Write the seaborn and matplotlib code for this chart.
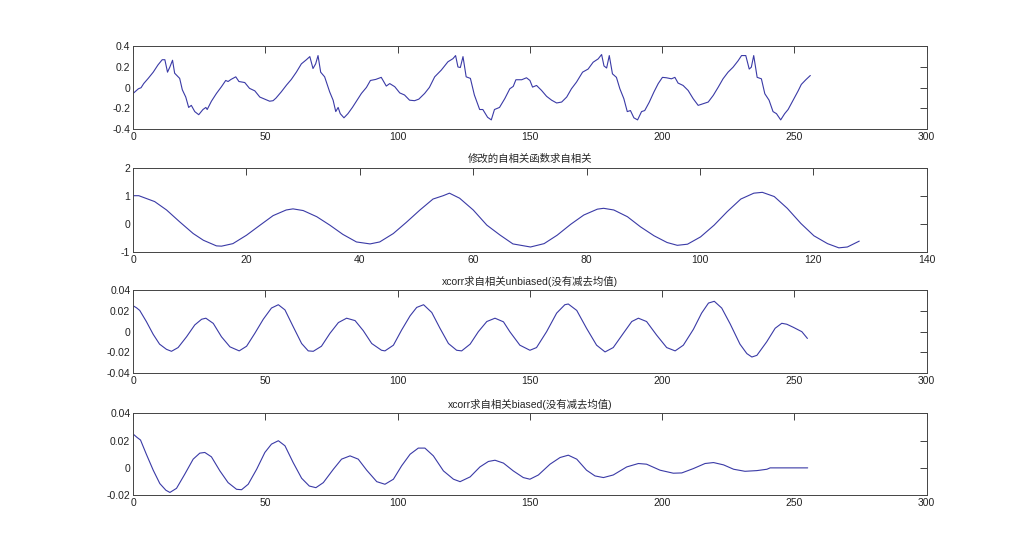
import matplotlib
matplotlib.use("Agg")
import matplotlib.pyplot as plt
import seaborn as sns

# 原始信号
sig_x = [0, 2, 3, 4, 5.7, 7.6, 9.4, 11, 12, 13, 13.9, 14.9, 15.7, 17.6, 18.6, 19.9, 21, 22, 23.3, 24.8,
         26.4, 27.5, 28, 29.6, 31.5, 33.4, 35, 35.9, 37, 38.8, 40, 42.2, 44, 46, 47.9, 49.7, 51.6, 52.9,
         54, 56, 58, 59.8, 61.7, 63.6, 65.5, 66.8, 68, 69, 69.9, 70.9, 72.4, 74.3, 75.6, 76.6, 77.5, 78.3,
         79.7, 81.2, 82.9, 84.4, 86.3, 88.2, 89.7, 91.7, 93.8, 95.7, 97, 98.9, 100.8, 102.6, 104.5, 106.4,
         108, 110.2, 112, 114, 116.5, 119, 120.9, 121.9, 122.8, 123.7, 124.7, 125.9, 127.5, 129, 131,
         132.2, 134, 135.4, 136.6, 138.5, 140.5, 142.4, 143.7, 144.7, 146.9, 148.7, 150, 151, 152.5, 154.4,
         156.3, 158.2, 160.1, 162, 163.9, 165.7, 167.6, 169.9, 172, 173.9, 175.8, 177.1, 178, 179, 180,
         181.2, 182.7, 184, 185.5, 186.8, 188, 189.3, 190.7, 192.2, 193.4, 195.1, 196.9, 198.5, 200.1,
         201.6, 203.5, 204.8, 206, 207.9, 209.8, 211.7, 213.6, 215.5, 217.4, 219.3, 221.2, 223, 224.9,
         226.8, 228.7, 230, 231.6, 232.9, 233.7, 234.6, 235.9, 237.5, 238.8, 240.4, 241.9, 243.2, 244.8,
         246.3, 247.6, 249.5, 251.4, 252.6, 254.3, 256]
sig_y = [-0.055, -0.01, 0.0, 0.04, 0.09, 0.15, 0.22, 0.27, 0.27, 0.15, 0.2, 0.265, 0.14, 0.09, -0.02,
         -0.09, -0.19, -0.17, -0.23, -0.26, -0.21, -0.19, -0.21, -0.13, -0.055, 0.01, 0.07, 0.06, 0.08,
         0.105, 0.06, 0.05, -0.006, -0.03, -0.09, -0.11, -0.13, -0.125, -0.1, -0.04, 0.026, 0.08, 0.15,
         0.23, 0.27, 0.3, 0.185, 0.23, 0.31, 0.15, 0.105, -0.04, -0.12, -0.23, -0.19, -0.25, -0.29, -0.25,
         -0.19, -0.13, -0.055, 0.003, 0.07, 0.08, 0.1, 0.016, 0.04, 0.01, -0.05, -0.07, -0.12, -0.125,
         -0.11, -0.055, 0.003, 0.105, 0.17, 0.25, 0.28, 0.31, 0.2, 0.195, 0.3, 0.105, 0.09, -0.07, -0.21,
         -0.21, -0.285, -0.31, -0.21, -0.19, -0.105, -0.01, 0.013, 0.077, 0.077, 0.096, 0.07, 0.006, 0.022,
         -0.026, -0.083, -0.12, -0.147, -0.138, -0.09, -0.01, 0.054, 0.15, 0.18, 0.246, 0.278, 0.32, 0.21,
         0.19, 0.31, 0.134, 0.1, -0.01, -0.105, -0.23, -0.22, -0.29, -0.31, -0.23, -0.22, -0.14, -0.04,
         0.04, 0.1, 0.096, 0.086, 0.1, 0.045, 0.022, -0.026, -0.105, -0.17, -0.154, -0.138, -0.074, 0.006,
         0.086, 0.15, 0.198, 0.26, 0.31, 0.31, 0.18, 0.198, 0.31, 0.1, 0.086, -0.058, -0.12, -0.23, -0.25,
         -0.31, -0.25, -0.21, -0.12, -0.03, 0.032, 0.077, 0.118]

# 修改的自相关函数求自相关
mod_x = [0, 1, 3.8, 5.9, 8.2, 10.6, 12.4, 14.7, 15.6, 17.6, 20, 22.4, 24.7, 27, 28.2, 30, 32.4, 34.7, 37,
         39.4, 41.8, 43.5, 45.9, 48.2, 50.6, 52.9, 54.7, 55.8, 57.6, 60, 62.4, 64.7, 67, 70.1, 72.5, 74.8,
         77.2, 79.5, 81.9, 83, 84.8, 87.2, 89.5, 91.9, 94.2, 96, 97.8, 100.1, 102.5, 104.8, 107.2, 109.5,
         111, 113.1, 115.4, 117.8, 120.1, 122.5, 124.5, 126, 128.1]
mod_y = [1.0, 1.0, 0.79, 0.49, 0.07, -0.35, -0.59, -0.79, -0.8, -0.71, -0.41, -0.05, 0.29, 0.49, 0.53, 0.47,
         0.25, -0.05, -0.38, -0.65, -0.72, -0.65, -0.35, 0.05, 0.49, 0.88, 1.0, 1.09, 0.91, 0.49, -0.05,
         -0.4, -0.72, -0.83, -0.71, -0.41, -0.02, 0.31, 0.52, 0.55, 0.49, 0.25, -0.11, -0.43, -0.67, -0.77,
         -0.73, -0.47, -0.05, 0.43, 0.88, 1.09, 1.12, 0.97, 0.55, 0.01, -0.43, -0.71, -0.86, -0.83, -0.62]

# xcorr unbiased
unb_x = [0, 1.3, 2.5, 5, 7.6, 10, 12.6, 14.5, 17, 20.2, 23.3, 25.9, 27.5, 30.3, 33.4, 36.6, 40.1, 42.9, 46,
         49.2, 52.3, 54.9, 57.4, 60.5, 63.7, 66.2, 68.1, 71.2, 74.4, 77.6, 80.7, 83.9, 87, 90.2, 93.9, 95.2,
         98.4, 101.5, 104.7, 107.2, 109.8, 112.9, 116, 119.2, 122.3, 124.2, 127.4, 130.5, 133.7, 136.8, 140,
         142.4, 146.2, 150, 152.5, 156.3, 160.1, 163.2, 164.5, 167.7, 171.4, 175.2, 178.4, 181.5, 185.3,
         188.5, 191, 194.1, 197.9, 201.7, 204.9, 208, 211.8, 214.9, 217.5, 219.7, 222.5, 225.7, 229.4, 232,
         233.9, 235.8, 239.5, 242.7, 245.2, 247.1, 249.6, 252.8, 254.9]
unb_y = [0.025, 0.023, 0.0205, 0.0098, -0.0026, -0.012, -0.017, -0.0189, -0.0153, -0.0049, 0.0065, 0.012,
         0.013, 0.008, -0.0049, -0.0146, -0.0185, -0.014, -0.0016, 0.012, 0.0228, 0.026, 0.021, 0.0049,
         -0.0114, -0.0185, -0.0189, -0.014, -0.0016, 0.0088, 0.013, 0.0107, 0.001, -0.0114, -0.0179, -0.0185,
         -0.013, 0.0016, 0.0153, 0.0234, 0.026, 0.0185, 0.0033, -0.0114, -0.0179, -0.0185, -0.012, 0.0,
         0.0098, 0.013, 0.0095, 0.0, -0.013, -0.0179, -0.0153, 0.0, 0.0179, 0.026, 0.0267, 0.0205, 0.0033,
         -0.013, -0.0195, -0.0153, -0.0016, 0.0098, 0.013, 0.0098, -0.0033, -0.0153, -0.0185, -0.013, 0.0023,
         0.0179, 0.0276, 0.0293, 0.0228, 0.0075, -0.012, -0.0211, -0.0244, -0.0228, -0.0098, 0.0033, 0.0081,
         0.0072, 0.0042, 0.0, -0.0065]

# xcorr biased
bia_x = [0, 1.5, 2.8, 5, 7.6, 10.1, 12.4, 13.9, 16.4, 19.5, 22.7, 25.2, 27.1, 29.6, 32.8, 35.9, 39.1, 41,
         43.5, 46.7, 49.8, 52.3, 54.9, 57.4, 60.5, 63.7, 66.6, 69.1, 71.9, 75.7, 78.8, 82, 85.1, 88.3, 92.1,
         95.2, 98.4, 101.5, 104.7, 107.8, 110.3, 113.5, 117.3, 121.1, 123.6, 127.4, 131.1, 134.3, 136.8, 140,
         143.7, 147.5, 150, 153.2, 157.6, 161.4, 164.5, 167.7, 171.4, 174.6, 177.8, 181.5, 186.6, 191,
         194.1, 199.2, 204.2, 207.4, 211.8, 216.2, 219.4, 223.2, 227, 231.3, 235.8, 239.6, 240.8, 245.9, 255]
bia_y = [0.0248, 0.0223, 0.0204, 0.01, -0.0017, -0.0115, -0.0164, -0.018, -0.015, -0.0047, 0.0064, 0.0108,
         0.0113, 0.0081, -0.0022, -0.0108, -0.0157, -0.016, -0.012, -0.001, 0.0113, 0.0174, 0.0199, 0.0162,
         0.0039, -0.0076, -0.0133, -0.0145, -0.0108, -0.001, 0.0064, 0.0088, 0.0064, -0.0017, -0.0101, -0.012,
         -0.0083, 0.0015, 0.01, 0.0145, 0.0145, 0.0088, -0.0022, -0.0083, -0.0101, -0.0066, 0.0007, 0.0047,
         0.0056, 0.0035, -0.0022, -0.0071, -0.0083, -0.0052, 0.0027, 0.0076, 0.0093, 0.0064, -0.0017,
         -0.0059, -0.0071, -0.0052, 0.0007, 0.0032, 0.0027, -0.0017, -0.0039, -0.0037, -0.0005, 0.0032,
         0.0039, 0.0022, -0.001, -0.0025, -0.002, -0.001, 0.0, 0.0, 0.0]

titles = ["", "修改的自相关函数求自相关", "xcorr求自相关unbiased(没有减去均值)", "xcorr求自相关biased(没有减去均值)"]
xlims = [300, 140, 300, 300]
xticks = [[0, 50, 100, 150, 200, 250, 300], [0, 20, 40, 60, 80, 100, 120, 140],
          [0, 50, 100, 150, 200, 250, 300], [0, 50, 100, 150, 200, 250, 300]]
yticks = [[-0.4, -0.2, 0, 0.2, 0.4], [-1, 0, 1, 2], [-0.04, -0.02, 0, 0.02, 0.04], [-0.02, 0, 0.02, 0.04]]
ylabels = [["-0.4", "-0.2", "0", "0.2", "0.4"], ["-1", "0", "1", "2"],
           ["-0.04", "-0.02", "0", "0.02", "0.04"], ["-0.02", "0", "0.02", "0.04"]]

sns.set_style("white")
# 数字用 Liberation Sans，中文回退到 Noto Sans CJK
plt.rcParams['font.family'] = ['Liberation Sans', 'Noto Sans CJK SC', 'DejaVu Sans']

fig = plt.figure(figsize=(10.24, 5.57), dpi=100)
# 每个子图的位置 (left, bottom, width, height)
positions = [(0.130, 0.768, 0.775, 0.149), (0.130, 0.548, 0.775, 0.151),
             (0.130, 0.330, 0.775, 0.149), (0.130, 0.111, 0.775, 0.147)]
series = [(sig_x, sig_y), (mod_x, mod_y), (unb_x, unb_y), (bia_x, bia_y)]

for i in range(4):
    ax = fig.add_axes(positions[i])
    xs, ys = series[i]
    sns.lineplot(x=xs, y=ys, ax=ax, color="#3a3aa6", linewidth=0.8, estimator=None, sort=False)
    ax.set_xlim(0, xlims[i])
    ax.set_ylim(yticks[i][0], yticks[i][-1])
    ax.set_xticks(xticks[i])
    ax.set_xticklabels([str(t) for t in xticks[i]])
    ax.set_yticks(yticks[i])
    ax.set_yticklabels(ylabels[i])
    ax.tick_params(direction="in", length=5, width=0.6, labelsize=7.5, colors="#222222",
                   top=True, right=True, pad=2)
    for s in ax.spines.values():
        s.set_color("#444444")
        s.set_linewidth(0.7)
    if titles[i]:
        ax.set_title(titles[i], fontsize=7.5, pad=4)

plt.savefig("out.png", dpi=100)
plt.close()
